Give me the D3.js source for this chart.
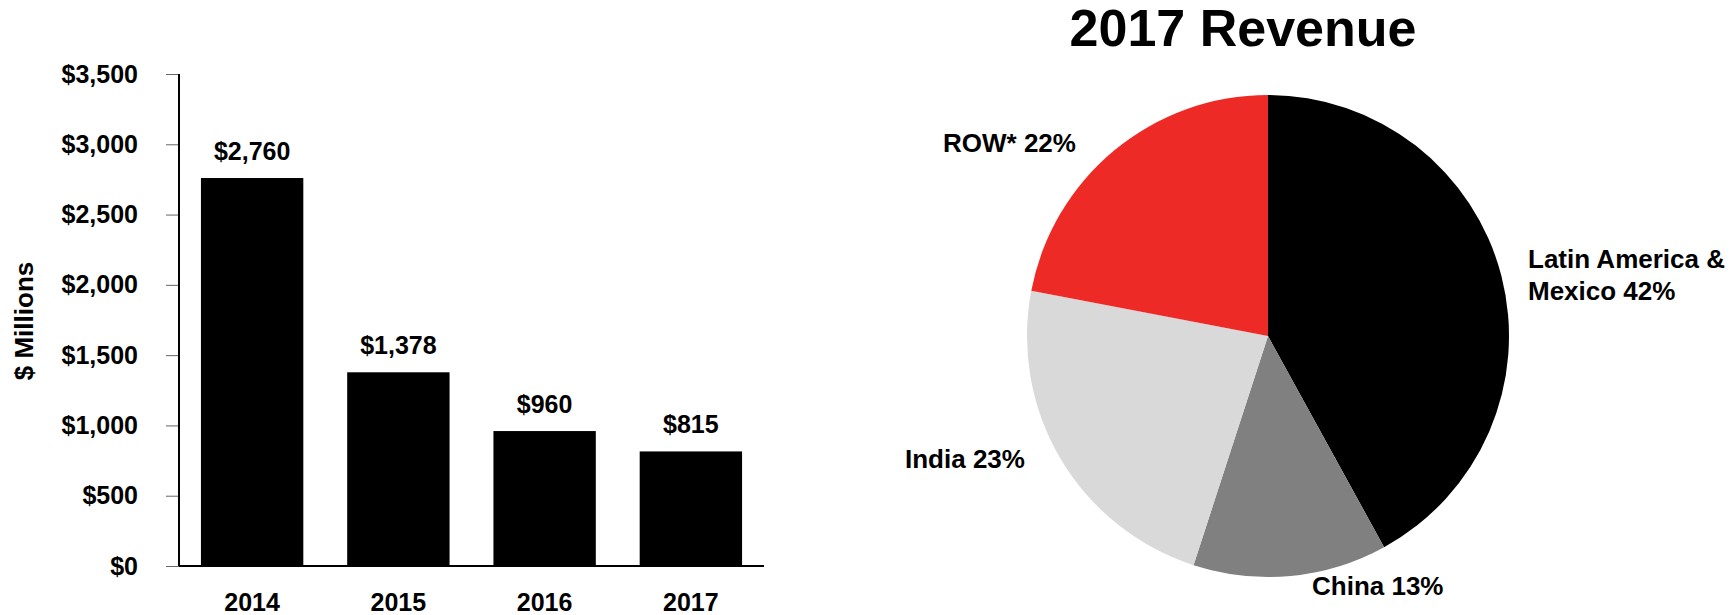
<!DOCTYPE html>
<html lang="en">
<head>
<meta charset="UTF-8">
<title>Revenue 2014-2017</title>
<style>
    body {
        margin: 0;
        padding: 0;
        background-color: #fff;
    }
    svg text {
        font-family: "Liberation Sans", Arial, sans-serif;
        font-weight: bold;
        fill: #000;
    }
</style>
</head>
<body>
<svg id="chart" width="1732" height="615"></svg>

<script src="https://d3js.org/d3.v7.min.js"></script>
<script>
    // bar chart data ($ millions)
    var years = ["2014", "2015", "2016", "2017"];
    var revenue = [2760, 1378, 960, 815];
    var yTicks = [0, 500, 1000, 1500, 2000, 2500, 3000, 3500];

    // pie data (2017 revenue split)
    var regions = ["Latin America & Mexico", "China", "India", "ROW*"];
    var shares = [42, 13, 23, 22];
    var sliceColors = ["#000000", "#808080", "#d9d9d9", "#ee2a27"];

    const svg = d3.select("#chart");

    // ---- bar chart ----
    const xScale = d3.scaleBand()
        .domain(years)
        .range([179, 764])
        .paddingInner(0.3)
        .paddingOuter(0.15);

    const yScale = d3.scaleLinear()
        .domain([0, 3500])
        .range([566, 74]);

    const fmt = d3.format(",");

    // y axis
    const yAxis = d3.axisLeft(yScale)
        .tickValues(yTicks)
        .tickSize(13)
        .tickPadding(28)
        .tickFormat(d => "$" + fmt(d));

    const yg = svg.append("g")
        .attr("transform", "translate(179, 0)")
        .call(yAxis);
    yg.select(".domain").remove();
    yg.selectAll(".tick line").attr("stroke", "#666").attr("stroke-width", 1);
    yg.selectAll(".tick text")
        .attr("font-size", 25)
        .style("font-family", "'Liberation Sans', Arial, sans-serif")
        .style("font-weight", "bold");
    yg.append("line")
        .attr("x1", 0).attr("x2", 0)
        .attr("y1", yScale(3500)).attr("y2", yScale(0))
        .attr("stroke", "#000").attr("stroke-width", 2);

    // bars
    svg.selectAll(".bar")
        .data(years)
        .enter().append("rect")
        .attr("class", "bar")
        .attr("x", d => xScale(d))
        .attr("width", xScale.bandwidth())
        .attr("y", (d, i) => yScale(revenue[i]))
        .attr("height", (d, i) => yScale(0) - yScale(revenue[i]))
        .attr("fill", "#000");

    // baseline
    svg.append("line")
        .attr("x1", xScale.range()[0]).attr("x2", xScale.range()[1])
        .attr("y1", yScale(0)).attr("y2", yScale(0))
        .attr("stroke", "#000").attr("stroke-width", 2);

    // value labels
    svg.selectAll(".val")
        .data(years)
        .enter().append("text")
        .attr("class", "val")
        .attr("x", d => xScale(d) + xScale.bandwidth() / 2)
        .attr("y", (d, i) => yScale(revenue[i]) - 18)
        .attr("text-anchor", "middle")
        .attr("font-size", 25)
        .text((d, i) => "$" + fmt(revenue[i]));

    // x labels
    svg.selectAll(".xlab")
        .data(years)
        .enter().append("text")
        .attr("class", "xlab")
        .attr("x", d => xScale(d) + xScale.bandwidth() / 2)
        .attr("y", 611)
        .attr("text-anchor", "middle")
        .attr("font-size", 25)
        .text(d => d);

    // y title
    svg.append("text")
        .attr("transform", "translate(33, 321) rotate(-90)")
        .attr("text-anchor", "middle")
        .attr("font-size", 26)
        .text("$ Millions");

    // ---- pie chart ----
    const cx = 1268, cy = 336, r = 241;

    const pie = d3.pie().sort(null).value(d => d);
    const arc = d3.arc().innerRadius(0).outerRadius(r);

    const pg = svg.append("g").attr("transform", `translate(${cx}, ${cy})`);
    pg.selectAll("path")
        .data(pie(shares))
        .enter().append("path")
        .attr("d", arc)
        .attr("fill", (d, i) => sliceColors[i]);

    // title
    svg.append("text")
        .attr("x", 1243)
        .attr("y", 46)
        .attr("text-anchor", "middle")
        .attr("font-size", 52)
        .text("2017 Revenue");

    // slice labels
    var labelPos = [[1528, 268], [1312, 595], [905, 468], [943, 152]];
    regions.forEach(function(name, i) {
        var t = svg.append("text")
            .attr("x", labelPos[i][0])
            .attr("y", labelPos[i][1])
            .attr("font-size", 26);
        if (i === 0) {
            t.append("tspan").attr("x", labelPos[i][0]).text("Latin America &");
            t.append("tspan").attr("x", labelPos[i][0]).attr("dy", 32).text("Mexico " + shares[i] + "%");
        } else {
            t.text(name + " " + shares[i] + "%");
        }
    });
</script>
</body>
</html>
